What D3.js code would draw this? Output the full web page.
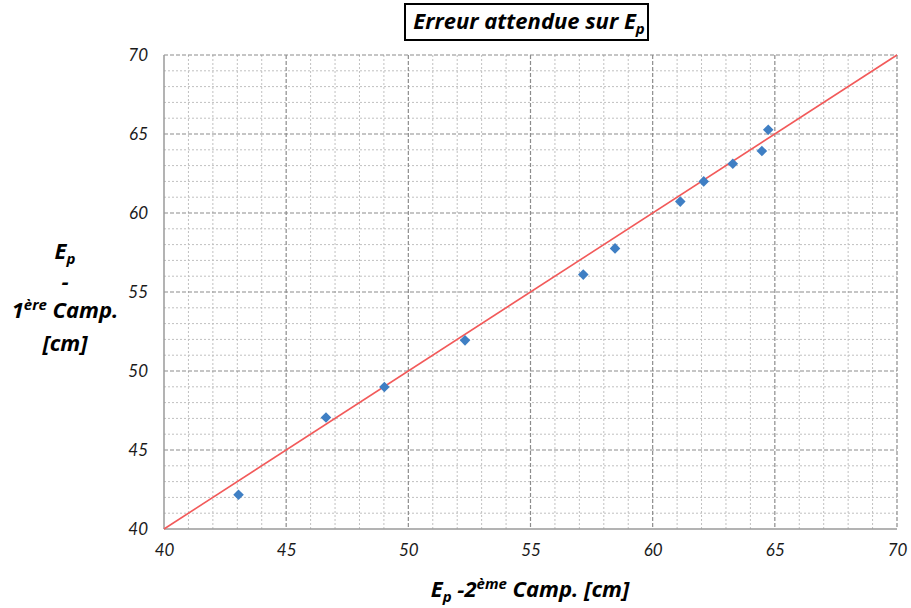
<!DOCTYPE html>
<html>
<head>
<meta charset="utf-8">
<script src="https://cdn.jsdelivr.net/npm/d3@7"></script>
<style>
  html, body { margin: 0; padding: 0; background: #fff; }
  svg { display: block; font-family: Lato, "Open Sans", sans-serif; }
</style>
</head>
<body>
<svg id="chart" width="911" height="608"></svg>
<script>
// Expected error on Ep: 2nd campaign (x) vs 1st campaign (y), in cm
const ep2 = [43.05, 46.63, 49.02, 52.32, 57.16, 58.46, 61.13, 62.09, 63.28, 64.47, 64.73];
const ep1 = [42.17, 47.06, 48.99, 51.94, 56.10, 57.76, 60.72, 62.00, 63.12, 63.92, 65.27];
const identityLine = [40, 70];
const xTicks = [40, 45, 50, 55, 60, 65, 70];
const yTicks = [40, 45, 50, 55, 60, 65, 70];

const svg = d3.select("#chart");
const plotLeft = 164, plotRight = 897, plotTop = 55, plotBottom = 529;
const titleFont = "'Open Sans', Lato, sans-serif";
const titleSize = 22, subSize = 15;

const x = d3.scaleLinear().domain([40, 70]).range([plotLeft, plotRight]);
const y = d3.scaleLinear().domain([40, 70]).range([plotBottom, plotTop]);

const minor = d3.range(40, 71, 1).filter(v => v % 5 !== 0);

// minor grid (dotted)
const g = svg.append("g");
g.selectAll(".vminor").data(minor).join("line")
  .attr("x1", d => x(d)).attr("x2", d => x(d))
  .attr("y1", plotTop).attr("y2", plotBottom)
  .attr("stroke", "#c0c0c0").attr("stroke-width", 1).attr("stroke-dasharray", "2,2");
g.selectAll(".hminor").data(minor).join("line")
  .attr("y1", d => y(d)).attr("y2", d => y(d))
  .attr("x1", plotLeft).attr("x2", plotRight)
  .attr("stroke", "#c0c0c0").attr("stroke-width", 1).attr("stroke-dasharray", "2,2");

// major grid (dashed)
g.selectAll(".vmajor").data(xTicks.slice(1)).join("line")
  .attr("x1", d => x(d)).attr("x2", d => x(d))
  .attr("y1", plotTop).attr("y2", plotBottom)
  .attr("stroke", "#8c8c8c").attr("stroke-width", 1.2).attr("stroke-dasharray", "4,2");
g.selectAll(".hmajor").data(yTicks.slice(1)).join("line")
  .attr("y1", d => y(d)).attr("y2", d => y(d))
  .attr("x1", plotLeft).attr("x2", plotRight)
  .attr("stroke", "#8c8c8c").attr("stroke-width", 1.2).attr("stroke-dasharray", "4,2");

// axes lines
svg.append("line").attr("x1", plotLeft).attr("x2", plotLeft).attr("y1", plotTop).attr("y2", plotBottom)
  .attr("stroke", "#9a9a9a").attr("stroke-width", 1.5);
svg.append("line").attr("x1", plotLeft).attr("x2", plotRight).attr("y1", plotBottom).attr("y2", plotBottom)
  .attr("stroke", "#9a9a9a").attr("stroke-width", 1.5);

// tick labels via d3 axes
const xAxis = svg.append("g").attr("transform", `translate(0,${plotBottom})`)
  .call(d3.axisBottom(x).tickValues(xTicks).tickSize(0).tickPadding(15));
const yAxis = svg.append("g").attr("transform", `translate(${plotLeft},0)`)
  .call(d3.axisLeft(y).tickValues(yTicks).tickSize(0).tickPadding(16));
[xAxis, yAxis].forEach(a => {
  a.select(".domain").remove();
  a.selectAll("text")
    .attr("font-family", "Lato, 'Open Sans', sans-serif")
    .attr("font-size", 17).attr("font-style", "italic").attr("fill", "#1a1a1a");
});

// identity line
svg.append("line")
  .attr("x1", x(identityLine[0])).attr("y1", y(identityLine[0]))
  .attr("x2", x(identityLine[1])).attr("y2", y(identityLine[1]))
  .attr("stroke", "#f25a5a").attr("stroke-width", 1.6);

// data points (diamonds)
svg.append("g").selectAll("path").data(ep2.map((v, i) => [v, ep1[i]])).join("path")
  .attr("d", d3.symbol().type(d3.symbolSquare).size(56))
  .attr("transform", d => `translate(${x(d[0])},${y(d[1])}) rotate(45)`)
  .attr("fill", "#3f7fc4");

// title box
svg.append("rect").attr("x", 405).attr("y", 4).attr("width", 243).attr("height", 36)
  .attr("fill", "#fff").attr("stroke", "#000").attr("stroke-width", 2);
const title = svg.append("text").attr("x", 529).attr("y", 29)
  .attr("text-anchor", "middle").attr("font-size", titleSize).attr("font-family", titleFont)
  .attr("font-weight", "bold").attr("font-style", "italic").attr("fill", "#000");
title.append("tspan").text("Erreur attendue sur E");
title.append("tspan").attr("dy", 5).attr("font-size", subSize).text("p");

// x-axis title
const xt = svg.append("text").attr("x", 530).attr("y", 597)
  .attr("text-anchor", "middle").attr("font-size", titleSize).attr("font-family", titleFont)
  .attr("font-weight", "bold").attr("font-style", "italic").attr("fill", "#000");
xt.append("tspan").text("E");
xt.append("tspan").attr("dy", 5).attr("font-size", subSize).text("p");
xt.append("tspan").attr("dy", -5).text(" -2");
xt.append("tspan").attr("dy", -8).attr("font-size", subSize).text("ème");
xt.append("tspan").attr("dy", 8).text(" Camp. [cm]");

// y-axis title (stacked lines)
const yl = svg.append("g").attr("font-size", titleSize).attr("font-weight", "bold").attr("font-family", titleFont)
  .attr("font-style", "italic").attr("fill", "#000").attr("text-anchor", "middle");
const l1 = yl.append("text").attr("x", 65).attr("y", 259);
l1.append("tspan").text("E");
l1.append("tspan").attr("dy", 5).attr("font-size", subSize).text("p");
yl.append("text").attr("x", 65).attr("y", 289).text("-");
const l3 = yl.append("text").attr("x", 65).attr("y", 318);
l3.append("tspan").text("1");
l3.append("tspan").attr("dy", -8).attr("font-size", subSize).text("ère");
l3.append("tspan").attr("dy", 8).text(" Camp.");
yl.append("text").attr("x", 65).attr("y", 351).text("[cm]");
</script>
</body>
</html>
